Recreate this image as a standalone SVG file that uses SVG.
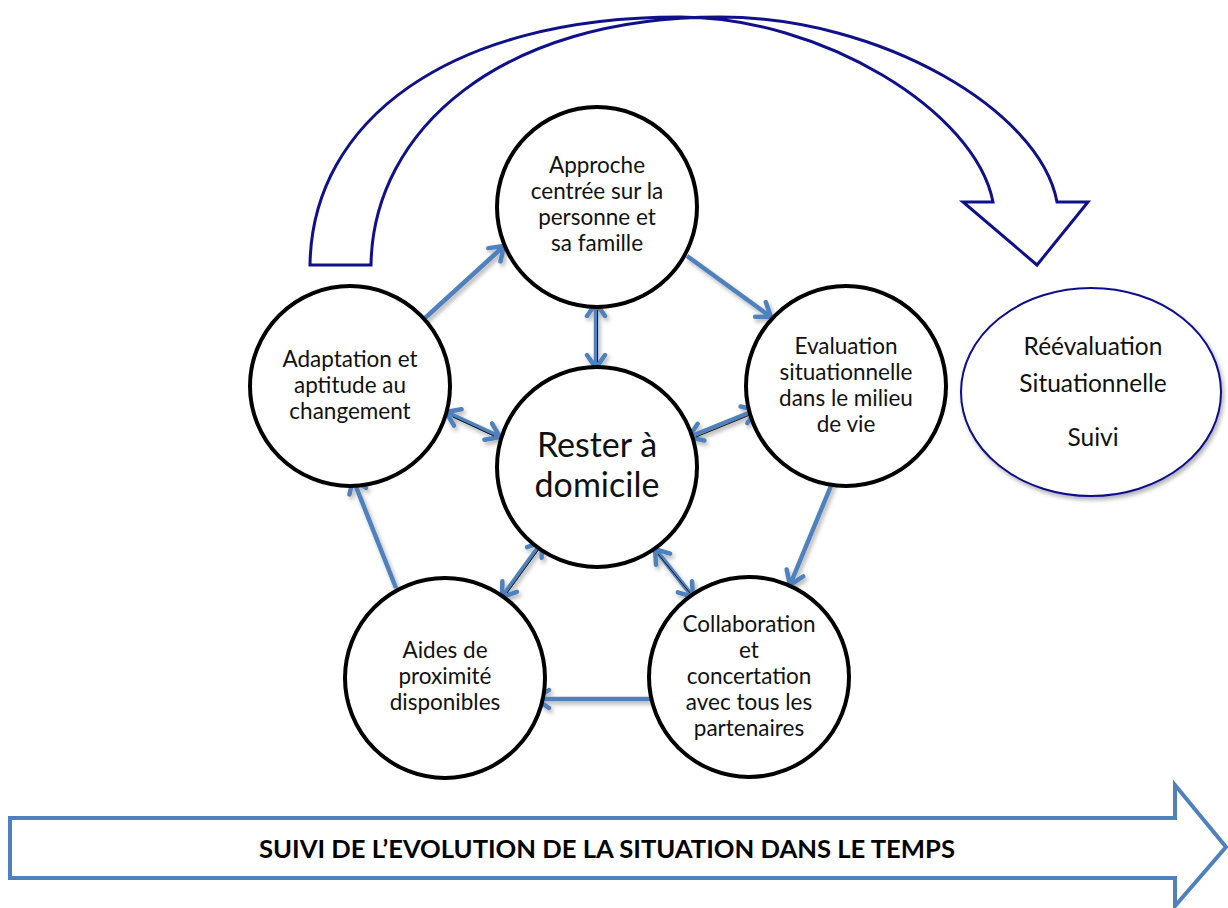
<svg xmlns="http://www.w3.org/2000/svg" width="1228" height="908" viewBox="0 0 1228 908">
<style>
.node{fill:#fff;stroke:#000;stroke-width:4}
.lbl{font-family:Lato,"Open Sans",sans-serif;font-size:22.5px;fill:#111;text-anchor:middle}
.big{font-size:34px}
.re{font-size:24.5px}
.conn{fill:none;stroke:#4F81BD;stroke-width:4.5}
.core{fill:none;stroke:#1a1a1a;stroke-width:1}
.navy{fill:#fff;stroke:#10108a;stroke-width:3}
</style>
<defs>
<marker id="ah" markerUnits="userSpaceOnUse" markerWidth="24" markerHeight="24" viewBox="0 0 24 24" refX="19" refY="12" orient="auto-start-reverse">
<path d="M6,3 L19,12 L6,21" fill="none" stroke="#4F81BD" stroke-width="4.5" stroke-linecap="round" stroke-linejoin="miter"/>
</marker>
<filter id="sh" x="-20%" y="-20%" width="140%" height="140%">
<feDropShadow dx="2" dy="3" stdDeviation="2" flood-color="#000" flood-opacity="0.3"/>
</filter>
</defs>
<rect width="1228" height="908" fill="#fff"/>

<g id="curved-arrow">
<path class="navy" d="M310,265 C312,120 450,17 680,17 C820,17 975,110 993,202 L963,202 L1037,265 L1088,202 L1057,202 C1040,110 880,17 720,17 C500,17 373,130 371,265 Z"/>
</g>

<g id="connectors" filter="url(#sh)">
<line class="conn" x1="424" y1="319" x2="504" y2="246" marker-end="url(#ah)"/>
<line class="conn" x1="687" y1="256" x2="771" y2="317" marker-end="url(#ah)"/>
<line class="conn" x1="833" y1="481" x2="790" y2="585" marker-end="url(#ah)"/>
<line class="conn" x1="652" y1="699" x2="536" y2="699" marker-end="url(#ah)"/>
<line class="conn" x1="396" y1="588" x2="353" y2="479" marker-end="url(#ah)"/>
<line class="conn" x1="596" y1="303" x2="596" y2="368" marker-start="url(#ah)" marker-end="url(#ah)"/>
<line class="core" x1="597.5" y1="310" x2="597.5" y2="362"/>
<line class="conn" x1="446" y1="412" x2="500" y2="437" marker-start="url(#ah)" marker-end="url(#ah)"/>
<line class="core" x1="453" y1="417" x2="494" y2="436"/>
<line class="conn" x1="689" y1="437" x2="756" y2="410" marker-start="url(#ah)" marker-end="url(#ah)"/>
<line class="core" x1="696" y1="437" x2="750" y2="415"/>
<line class="conn" x1="542" y1="542" x2="502" y2="597" marker-start="url(#ah)" marker-end="url(#ah)"/>
<line class="core" x1="539" y1="549" x2="507" y2="593"/>
<line class="conn" x1="655" y1="549" x2="693" y2="597" marker-start="url(#ah)" marker-end="url(#ah)"/>
<line class="core" x1="658" y1="554" x2="690" y2="593"/>
</g>

<g id="n-top">
<circle class="node" cx="597" cy="207" r="100"/>
<text class="lbl" x="597" y="173">Approche</text>
<text class="lbl" x="597" y="199">centrée sur la</text>
<text class="lbl" x="597" y="225">personne et</text>
<text class="lbl" x="597" y="251">sa famille</text>
</g>

<g id="n-left">
<circle class="node" cx="350" cy="386" r="100"/>
<text class="lbl" x="350" y="367">Adaptation et</text>
<text class="lbl" x="350" y="393">aptitude au</text>
<text class="lbl" x="350" y="419">changement</text>
</g>

<g id="n-right">
<circle class="node" cx="846" cy="386" r="100"/>
<text class="lbl" x="846" y="354">Evaluation</text>
<text class="lbl" x="846" y="380">situationnelle</text>
<text class="lbl" x="846" y="406">dans le milieu</text>
<text class="lbl" x="846" y="432">de vie</text>
</g>

<g id="n-center">
<circle class="node" cx="597" cy="467" r="100"/>
<text class="lbl big" x="597" y="457">Rester à</text>
<text class="lbl big" x="597" y="497">domicile</text>
</g>

<g id="n-bottom-left">
<circle class="node" cx="445" cy="678" r="100"/>
<text class="lbl" x="445" y="658">Aides de</text>
<text class="lbl" x="445" y="684">proximité</text>
<text class="lbl" x="445" y="710">disponibles</text>
</g>

<g id="n-bottom-right">
<circle class="node" cx="749" cy="677" r="100"/>
<text class="lbl" x="749" y="632">Collaboration</text>
<text class="lbl" x="749" y="658">et</text>
<text class="lbl" x="749" y="684">concertation</text>
<text class="lbl" x="749" y="710">avec tous les</text>
<text class="lbl" x="749" y="736">partenaires</text>
</g>

<g id="n-reevaluation">
<ellipse cx="1091" cy="392" rx="130" ry="104" fill="#fff" stroke="#10108a" stroke-width="2" filter="url(#sh)"/>
<text class="lbl re" x="1093" y="355">Réévaluation</text>
<text class="lbl re" x="1093" y="392">Situationnelle</text>
<text class="lbl re" x="1093" y="446">Suivi</text>
</g>

<g id="n-timeline">
<polygon points="10,818 1175,818 1175,785 1226,847 1175,906 1175,878 10,878" fill="#fff" stroke="#4F81BD" stroke-width="4"/>
<text x="607" y="858" font-family="Lato,'Open Sans',sans-serif" font-weight="bold" font-size="25" text-anchor="middle" fill="#000" textLength="696" lengthAdjust="spacingAndGlyphs">SUIVI DE L’EVOLUTION DE LA SITUATION DANS LE TEMPS</text>
</g>
</svg>
